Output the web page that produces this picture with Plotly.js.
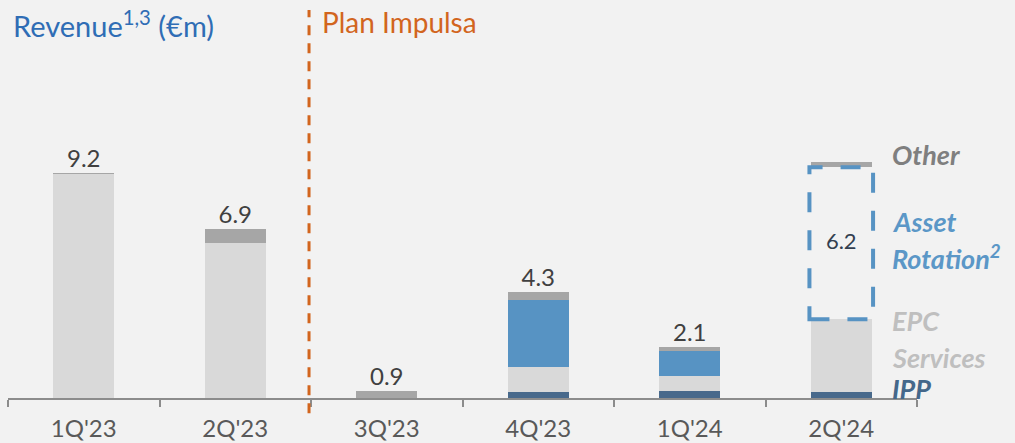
<!DOCTYPE html>
<html>
<head>
<meta charset="utf-8">
<script src="https://cdn.plot.ly/plotly-3.0.1.min.js"></script>
<style>
  html, body { margin: 0; padding: 0; background: #f2f2f2; }
  #chart { width: 1015px; height: 443px; }
</style>
</head>
<body>
<div id="chart"></div>
<script>
// ---- data (€m) ----
const categories = ["1Q'23", "2Q'23", "3Q'23", "4Q'23", "1Q'24", "2Q'24"];
const ipp = [0, 0, 0, 0.25, 0.27, 0.23];
const epcServices = [9.14, 6.33, 0, 1.02, 0.64, 2.99];
const assetRotation = [0, 0, 0, 2.73, 1.00, 6.2];
const other = [0.06, 0.57, 0.3, 0.31, 0.18, 0.2];
const totalLabels = ['9.2', '6.9', '0.9', '4.3', '2.1', ''];
const assetRotationLabels = ['', '', '', '', '', '6.2'];
const pendingIndex = 5; // 2Q'24 asset rotation shown as dashed outline

// ---- styles ----
const FONT = 'Lato, "Open Sans", sans-serif';
const C_IPP = '#48698b';
const C_EPC = '#d9d9d9';
const C_AR = '#5793c3';
const C_OTHER = '#a6a6a6';
const C_ORANGE = '#d2651e';

const tops = categories.map((_, i) => ipp[i] + epcServices[i] + assetRotation[i] + other[i]);
const arColors = categories.map((_, i) => i === pendingIndex ? 'rgba(0,0,0,0)' : C_AR);

// only the labelled points get text
const totIdx = categories.map((_, i) => i).filter(i => totalLabels[i] !== '');
const arIdx = categories.map((_, i) => i).filter(i => assetRotationLabels[i] !== '');

const BW = 0.40;
const traces = [
  { type: 'bar', name: 'IPP', x: categories, y: ipp, marker: { color: C_IPP }, width: BW, hoverinfo: 'skip' },
  { type: 'bar', name: 'EPC Services', x: categories, y: epcServices, marker: { color: C_EPC }, width: BW, hoverinfo: 'skip' },
  { type: 'bar', name: 'Asset Rotation', x: categories, y: assetRotation, marker: { color: arColors }, width: BW, hoverinfo: 'skip' },
  { type: 'bar', name: 'Other', x: categories, y: other, marker: { color: C_OTHER }, width: BW, hoverinfo: 'skip' },
  { type: 'scatter', mode: 'text', x: totIdx.map(i => categories[i]), y: totIdx.map(i => tops[i]),
    text: totIdx.map(i => totalLabels[i]), textposition: 'top center',
    textfont: { family: FONT, size: 24, color: '#404040' }, cliponaxis: false, hoverinfo: 'skip', showlegend: false },
  { type: 'scatter', mode: 'text', x: arIdx.map(i => categories[i]),
    y: arIdx.map(i => ipp[i] + epcServices[i] + assetRotation[i] / 2),
    text: arIdx.map(i => assetRotationLabels[i]), textposition: 'middle center',
    textfont: { family: FONT, size: 22, color: '#333f50' }, cliponaxis: false, hoverinfo: 'skip', showlegend: false }
];

// dashed outline for pending asset rotation, from data
const arBase = ipp[pendingIndex] + epcServices[pendingIndex];
const shapes = [
  { type: 'rect', xref: 'x', yref: 'y',
    x0: pendingIndex - BW / 2 - 0.01, x1: pendingIndex + BW / 2 + 0.01,
    y0: arBase, y1: arBase + assetRotation[pendingIndex],
    line: { color: C_AR, width: 4, dash: '20px,18px' }, fillcolor: 'rgba(0,0,0,0)', layer: 'above' },
  { type: 'line', xref: 'x', yref: 'paper', x0: 1.487, x1: 1.487, y0: -0.039, y1: 1.0,
    line: { color: C_ORANGE, width: 3, dash: '10px,8px' }, layer: 'above' }
];

function side(text, color, ypx) {
  return { xref: 'paper', yref: 'paper', x: 0.970, y: (398 - ypx) / 388, xanchor: 'left', yanchor: 'middle',
    showarrow: false, text: '<b><i>' + text + '</i></b>', font: { family: FONT, size: 27, color: color } };
}

const annotations = [
  { xref: 'paper', yref: 'paper', x: 0.3435, y: (398 - 22) / 388, xanchor: 'left', yanchor: 'middle',
    showarrow: false, text: 'Plan Impulsa', font: { family: FONT, size: 28, color: C_ORANGE } },
  side('Other', '#7f7f7f', 154),
  side('Asset', '#5b97c7', 221),
  side('Rotation<sup>2</sup>', '#5b97c7', 257),
  side('EPC', '#bfbfbf', 320),
  side('Services', '#bfbfbf', 357),
  side('IPP', '#44678a', 388)
];

const layout = {
  width: 1015, height: 443,
  paper_bgcolor: '#f2f2f2', plot_bgcolor: '#f2f2f2',
  margin: { l: 8, r: 98, t: 10, b: 45 },
  barmode: 'stack',
  showlegend: false,
  title: { text: 'Revenue<sup>1,3</sup> (€m)', xref: 'container', yref: 'container',
    x: 13 / 1015, xanchor: 'left', y: 1 - 27 / 443, yanchor: 'middle',
    font: { family: FONT, size: 29, color: '#2f6db5' } },
  xaxis: { type: 'category', showline: true, linecolor: '#8c8c8c', linewidth: 2,
    ticks: 'outside', ticklen: 7, tickwidth: 2, tickcolor: '#8c8c8c', tickson: 'boundaries',
    tickfont: { family: FONT, size: 24, color: '#595959' }, ticklabelstandoff: 8,
    showgrid: false, zeroline: false, fixedrange: true },
  yaxis: { visible: false, range: [0, 15.84], showgrid: false, zeroline: false, fixedrange: true },
  shapes: shapes,
  annotations: annotations
};

Plotly.newPlot('chart', traces, layout, { displayModeBar: false, staticPlot: true });
</script>
</body>
</html>
